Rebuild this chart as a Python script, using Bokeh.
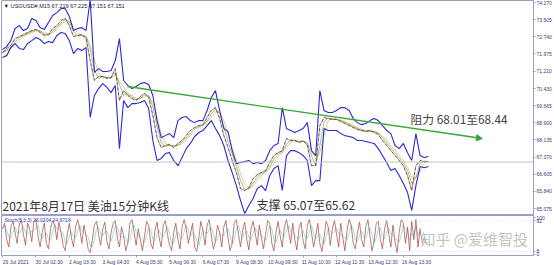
from bokeh.plotting import figure
from bokeh.layouts import column
from bokeh.models import Range1d, FixedTicker, Label, Span, Arrow, NormalHead, PrintfTickFormatter
from bokeh.embed import file_html
from bokeh.resources import INLINE
import numpy as np
import pandas as pd

# ---------------- data ----------------
BAR_STEP = 12      # 15-minute bars per price sample
STOCH_STEP = 6     # 15-minute bars per stochastic sample

upper = [72.17, 72.31, 72.57, 73.11, 73.24, 73.02, 73.11, 73.56, 73.47, 73.15,
         73.07, 73.38, 73.69, 73.82, 74.00, 74.00, 73.65, 73.02, 73.11, 73.15,
         73.02, 74.40, 71.15, 71.32, 71.19, 71.19, 71.24, 71.68, 72.66, 70.79,
         70.57, 70.43, 70.52, 70.65, 70.70, 70.61, 70.12, 69.00, 68.24, 68.33,
         68.42, 68.24, 69.00, 69.14, 69.18, 69.00, 68.91, 69.00, 69.00, 69.45,
         70.03, 70.34, 69.45, 68.65, 68.51, 67.66, 67.08, 67.13, 67.17, 67.22,
         67.08, 67.13, 67.08, 67.22, 67.66, 67.89, 67.98, 69.58, 68.65, 68.56,
         68.47, 68.56, 68.65, 68.91, 67.66, 67.44, 70.34, 69.45, 69.36, 69.36,
         69.45, 69.58, 69.58, 69.45, 69.09, 68.91, 68.82, 68.87, 69.00, 69.09,
         69.00, 68.78, 68.56, 68.42, 67.89, 67.75, 67.98, 67.57, 67.22, 68.42,
         67.44, 67.35, 67.40]
mid = [72.04, 72.22, 72.35, 72.66, 72.75, 72.84, 72.93, 73.02, 73.07, 72.93,
       72.80, 72.84, 73.11, 73.24, 73.47, 73.56, 73.24, 72.75, 72.80, 72.84,
       72.66, 71.68, 70.79, 70.97, 70.97, 70.88, 70.92, 71.32, 69.90, 70.34,
       70.12, 69.98, 69.90, 70.07, 70.21, 70.03, 69.23, 68.24, 67.80, 67.89,
       67.93, 67.80, 67.98, 68.11, 68.33, 68.56, 68.69, 68.78, 68.82, 69.14,
       69.45, 69.58, 69.09, 68.33, 67.80, 67.22, 66.68, 65.97, 65.88, 66.01,
       66.41, 66.59, 66.68, 66.77, 67.13, 67.44, 67.57, 67.66, 68.20, 68.11,
       68.11, 68.02, 68.11, 67.89, 66.99, 66.99, 68.78, 69.14, 69.09, 69.05,
       69.05, 68.96, 68.87, 68.78, 68.69, 68.60, 68.56, 68.51, 68.56, 68.47,
       68.38, 68.11, 67.89, 67.66, 67.44, 67.22, 66.99, 66.55, 65.88, 66.99,
       67.22, 67.17, 67.17]
lower = [71.82, 71.90, 72.26, 72.44, 72.22, 72.17, 72.44, 72.57, 72.71, 72.62,
         72.44, 72.53, 72.48, 72.80, 72.93, 72.89, 72.57, 71.99, 72.22, 72.13,
         72.26, 69.14, 70.12, 70.43, 70.65, 70.48, 70.25, 70.57, 67.75, 69.90,
         69.58, 69.76, 69.76, 69.81, 69.90, 69.54, 68.11, 67.22, 67.31, 67.53,
         67.57, 67.22, 66.99, 67.35, 67.75, 67.98, 68.29, 68.47, 68.56, 68.78,
         69.00, 68.65, 68.33, 67.89, 67.22, 66.68, 66.10, 65.43, 64.85, 65.21,
         65.52, 65.97, 66.10, 65.88, 66.55, 66.86, 66.99, 65.88, 67.44, 67.66,
         67.66, 67.57, 67.44, 67.22, 66.10, 66.32, 66.32, 68.65, 68.56, 68.56,
         68.56, 68.42, 68.33, 68.29, 68.24, 68.11, 68.11, 68.07, 68.02, 67.98,
         67.75, 67.44, 67.13, 66.77, 66.86, 66.55, 66.19, 65.79, 64.99, 66.10,
         66.95, 66.90, 66.95]

stoch_k = [70, 85, 40, 20, 75, 90, 60, 30, 80, 95, 55, 25, 85, 70, 35, 90, 95, 50, 20, 60,
           85, 30, 15, 70, 92, 80, 40, 88, 60, 25, 10, 55, 85, 45, 20, 75, 95, 70, 30, 80,
           50, 15, 5, 40, 80, 90, 55, 25, 70, 88, 35, 15, 60, 85, 92, 45, 20, 75, 50, 10,
           30, 85, 95, 60, 25, 70, 40, 10, 50, 90, 80, 30, 15, 65, 88, 45, 20, 80, 92, 55,
           25, 10, 60, 85, 40, 15, 75, 95, 70, 30, 55, 85, 20, 8, 45, 90, 65, 25, 80, 95,
           50, 15, 35, 80, 60, 20, 75, 92, 45, 10, 30, 85, 95, 55, 20, 65, 88, 40, 12, 70,
           90, 60, 25, 80, 45, 15, 55, 92, 85, 30, 10, 60, 90, 50, 20, 75, 95, 65, 30, 85,
           40, 12, 70, 88, 35, 15, 80, 95, 60, 20, 50, 85, 30, 8, 45, 90, 75, 25, 70, 92,
           55, 20, 85, 45, 10, 65, 95, 80, 30, 15, 60, 88, 40, 20, 75, 95, 50, 10, 35, 85,
           90, 40, 15, 70, 92, 55, 20, 80, 35, 5, 60, 95, 85, 30, 75, 10, 90, 40, 95, 20,
           70, 30, 45, 28, 25]

tick_bars = [0, 96, 192, 288, 384, 480, 576, 672, 768, 864, 960, 1056, 1152]
tick_labels = ["29 Jul 2021", "30 Jul 02:30", "2 Aug 03:30", "3 Aug 04:30", "4 Aug 05:30",
               "5 Aug 06:30", "6 Aug 07:30", "9 Aug 08:30", "10 Aug 09:30", "11 Aug 10:30",
               "12 Aug 11:30", "13 Aug 12:30", "16 Aug 13:30"]
price_ticks = [74.270, 73.505, 72.740, 71.975, 71.210, 70.430, 69.665, 68.900,
               68.135, 67.370, 66.605, 65.840, 65.075]
stoch_ticks = [0, 8, 92, 100]
last_price = 67.151
trend_x = [359, 1379]
trend_y = [70.52, 68.20]

header = "\u25bc USOUSD#,M15  67.219 67.225 67.151 67.151"
stoch_header = "Stoch(5,3,3) 26.0204 24.6718"
title_text = "2021年8月17日 美油15分钟K线"
support_text = "支撑 65.07至65.62"
resist_text = "阻力 68.01至68.44"
watermark = "知乎 @爱维智投"

# ---------------- derived ----------------
bars = np.arange(len(mid)) * BAR_STEP
sbars = np.arange(len(stoch_k)) * STOCH_STEP
ms = pd.Series(mid)
ma2 = ms.rolling(2, min_periods=1).mean().values
ma3 = ms.rolling(3, min_periods=1).mean().values
stoch_d = pd.Series(stoch_k).rolling(3, min_periods=1).mean().values
LABEL_SHIFT = 38   # MT4 writes each time label to the right of its tick
label_pos = [b + LABEL_SHIFT for b in tick_bars]

XR = Range1d(-3, 1526)
AX_COLOR = "#9a9ec4"
LBL_COLOR = "#3a3a7a"
SMALL = "5px"
CJK = "Noto Sans CJK SC"

# ---------------- main panel ----------------
p1 = figure(frame_width=532, frame_height=214, x_range=XR, y_range=Range1d(64.81, 74.36),
            y_axis_location="right", x_axis_location=None, toolbar_location=None,
            output_backend="svg", min_border_left=1, min_border_right=0,
            min_border_top=0, min_border_bottom=1)
p1.grid.visible = False
p1.outline_line_color = AX_COLOR
p1.background_fill_color = "white"
p1.border_fill_color = "white"
ya = p1.yaxis[0]
ya.ticker = FixedTicker(ticks=price_ticks)
ya.formatter = PrintfTickFormatter(format="%.3f")
ya.major_label_text_font_size = SMALL
ya.major_label_text_color = LBL_COLOR
ya.axis_line_color = AX_COLOR
ya.major_tick_line_color = AX_COLOR
ya.major_tick_out = 2
ya.major_tick_in = 0
ya.minor_tick_line_color = None
ya.major_label_standoff = 1

p1.add_layout(Span(location=last_price, dimension="width", line_color="#c4c4c4", line_width=1))

p1.line(bars, ma3, line_color="#e89a20", line_width=0.6, line_alpha=0.9)
p1.line(bars, ma2, line_color="#2a9a2a", line_width=0.6, line_alpha=0.9)
p1.line(bars, mid, line_color="#c03030", line_width=0.6, line_alpha=0.8)
p1.line(bars, mid, line_color="#2a2a2a", line_width=0.6, line_dash="3 2")
p1.line(bars, upper, line_color="#2a2ad2", line_width=1.1)
p1.line(bars, lower, line_color="#2a2ad2", line_width=1.1)

p1.add_layout(Arrow(end=NormalHead(size=6, fill_color="#34a834", line_color="#34a834"),
                    x_start=trend_x[0], y_start=trend_y[0], x_end=trend_x[1], y_end=trend_y[1],
                    line_color="#34a834", line_width=1.4))

p1.add_layout(Label(x=2, y=206, x_units="screen", y_units="screen", text=header,
                    text_font_size="5.6px", text_color="#222222", text_font="Liberation Sans"))
p1.add_layout(Label(x=1, y=1, x_units="screen", y_units="screen", text=title_text,
                    text_font_size="12px", text_color="#333333", text_font=CJK))
p1.add_layout(Label(x=255, y=2, x_units="screen", y_units="screen", text=support_text,
                    text_font_size="12px", text_color="#333333", text_font=CJK))
p1.add_layout(Label(x=409, y=88, x_units="screen", y_units="screen", text=resist_text,
                    text_font_size="11.8px", text_color="#444444", text_font=CJK))
p1.add_layout(Label(x=XR.end, y=last_price, text=" 67.151 ", text_font_size=SMALL,
                    text_color="white", background_fill_color="#1c2a80",
                    text_baseline="middle", x_offset=1, text_font="Liberation Sans"))

# ---------------- stochastic panel ----------------
p2 = figure(frame_width=532, frame_height=40, x_range=XR, y_range=Range1d(-3, 106),
            y_axis_location="right", toolbar_location=None, output_backend="svg",
            min_border_left=1, min_border_right=0, min_border_top=0, min_border_bottom=0)
p2.grid.visible = False
p2.outline_line_color = AX_COLOR
p2.background_fill_color = "white"
p2.border_fill_color = "white"
y2 = p2.yaxis[0]
y2.ticker = FixedTicker(ticks=stoch_ticks)
y2.major_label_text_font_size = SMALL
y2.major_label_text_color = LBL_COLOR
y2.axis_line_color = AX_COLOR
y2.major_tick_line_color = AX_COLOR
y2.major_tick_out = 2
y2.major_tick_in = 0
y2.minor_tick_line_color = None
y2.major_label_standoff = 1
x2 = p2.xaxis[0]
x2.ticker = FixedTicker(ticks=label_pos, minor_ticks=tick_bars)
x2.major_label_overrides = {p: t for p, t in zip(label_pos, tick_labels)}
x2.major_label_text_font_size = SMALL
x2.major_label_text_color = LBL_COLOR
x2.axis_line_color = AX_COLOR
x2.major_tick_line_color = None
x2.minor_tick_line_color = AX_COLOR
x2.minor_tick_out = 2
x2.minor_tick_in = 0
x2.major_tick_out = 2
x2.major_tick_in = 0
x2.major_label_standoff = 1

for lv in (8, 92):
    p2.add_layout(Span(location=lv, dimension="width", line_color="#cccccc",
                       line_width=0.6, line_dash="1 2"))
p2.line(sbars, stoch_d, line_color="#8ad8d8", line_width=0.8)
p2.line(sbars, stoch_k, line_color="#a8524a", line_width=0.75)
p2.add_layout(Label(x=3, y=33, x_units="screen", y_units="screen", text=stoch_header,
                    text_font_size=SMALL, text_color="#3535c0", text_font="Liberation Sans"))
p2.add_layout(Label(x=419, y=7, x_units="screen", y_units="screen", text=watermark,
                    text_font_size="15px", text_color="#b8b8b8", text_alpha=0.85,
                    background_fill_color="white", background_fill_alpha=0.35,
                    text_font=CJK))

layout = column(p1, p2, spacing=0)
open("out.html", "w").write(file_html(layout, INLINE))
